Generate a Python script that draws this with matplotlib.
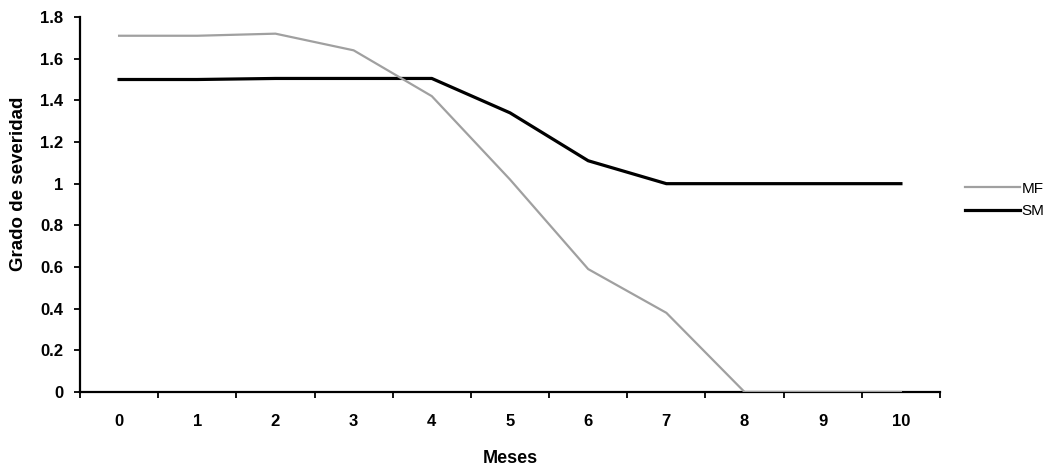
import numpy as np
import matplotlib

matplotlib.use("Agg")
import matplotlib.pyplot as plt
from matplotlib.ticker import FixedLocator, NullFormatter

plt.rcParams["font.family"] = ["Liberation Sans", "DejaVu Sans"]

meses = [0, 1, 2, 3, 4, 5, 6, 7, 8, 9, 10]
mf = [1.71, 1.71, 1.72, 1.64, 1.42, 1.02, 0.59, 0.38, 0.0, 0.0, 0.0]
sm = [1.50, 1.50, 1.505, 1.505, 1.505, 1.34, 1.11, 1.0, 1.0, 1.0, 1.0]
y_ticks = [0, 0.2, 0.4, 0.6, 0.8, 1, 1.2, 1.4, 1.6, 1.8]

fig = plt.figure(figsize=(10.58, 4.72), dpi=100)
ax = fig.add_axes([80 / 1058, 80 / 472, 860 / 1058, 375 / 472])

x = np.arange(len(meses))
ax.plot(x, mf, color="#a0a0a0", lw=1.6, label="MF", zorder=3)
ax.plot(x, sm, color="black", lw=2.3, label="SM", zorder=2)

ax.set_xlim(-0.5, len(meses) - 0.5)
ax.set_ylim(0, 1.8)

# category axis: ticks between categories, labels centred on them
ax.xaxis.set_major_locator(FixedLocator(np.arange(len(meses) + 1) - 0.5))
ax.xaxis.set_major_formatter(NullFormatter())
ax.set_xticks(x, [str(m) for m in meses], minor=True)
ax.tick_params(axis="x", which="major", direction="out", length=4, width=1.3)
ax.tick_params(axis="x", which="minor", length=0, pad=16, labelsize=12)
for lab in ax.get_xticklabels(minor=True):
    lab.set_fontweight("bold")

ax.set_yticks(y_ticks, [f"{v:g}" for v in y_ticks])
ax.tick_params(axis="y", direction="out", length=4, width=1.3, labelsize=12, pad=8)
for lab in ax.get_yticklabels():
    lab.set_fontweight("bold")

for side in ("top", "right"):
    ax.spines[side].set_visible(False)
for side in ("left", "bottom"):
    ax.spines[side].set_linewidth(1.6)

ax.set_xlabel("Meses", fontsize=13, fontweight="bold", labelpad=15)
ax.set_ylabel("Grado de severidad", fontsize=13.5, fontweight="bold")
ax.yaxis.set_label_coords(-0.062, 0.555)

fig.legend(loc="center left", bbox_to_anchor=(965 / 1058, 1 - 200 / 472),
           frameon=False, fontsize=11, handlelength=3.6, handletextpad=0.1,
           labelspacing=0.55, borderpad=0, borderaxespad=0)

fig.savefig("out.png", dpi=100)
